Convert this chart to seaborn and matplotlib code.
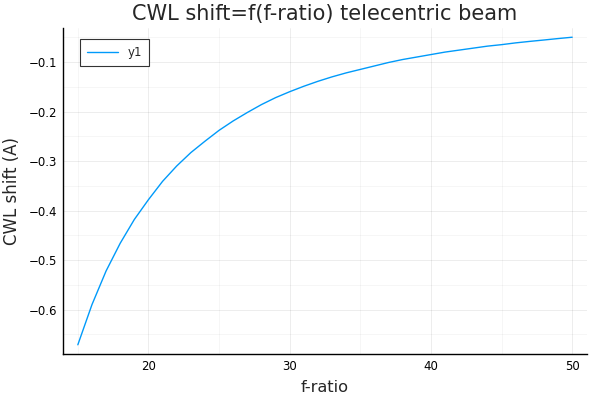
import matplotlib
matplotlib.use("Agg")
import matplotlib.pyplot as plt
import pandas as pd
import seaborn as sns
from matplotlib.ticker import MultipleLocator

# f-ratio values and the CWL shift
f_ratio = list(range(15, 51))
cwl_shift = [
    -0.671, -0.590, -0.522, -0.466, -0.418, -0.378, -0.341, -0.310,
    -0.283, -0.260, -0.238, -0.219, -0.202, -0.186, -0.172, -0.160,
    -0.149, -0.139, -0.130, -0.122, -0.115, -0.108, -0.101, -0.095,
    -0.090, -0.085, -0.080, -0.076, -0.072, -0.068, -0.065, -0.0614,
    -0.0584, -0.0556, -0.0527, -0.050,
]
series_name = "y1"

sns.set_theme(style="white")
plt.rcParams["font.family"] = ["DejaVu Sans"]

df = pd.DataFrame({"f-ratio": f_ratio, "shift": cwl_shift, "series": series_name})

fig, ax = plt.subplots(figsize=(5.97, 3.98), dpi=100)
fig.subplots_adjust(left=63 / 597, right=587 / 597, top=1 - 28 / 398, bottom=1 - 354 / 398)

sns.lineplot(data=df, x="f-ratio", y="shift", hue="series",
             palette=["#009AFA"], linewidth=1.0, ax=ax)

# Plots.jl-like 3% padding
xr = max(f_ratio) - min(f_ratio)
yr = max(cwl_shift) - min(cwl_shift)
ax.set_xlim(min(f_ratio) - 0.03 * xr, max(f_ratio) + 0.03 * xr)
ax.set_ylim(min(cwl_shift) - 0.03 * yr, max(cwl_shift) + 0.03 * yr)

ax.xaxis.set_major_locator(MultipleLocator(10))
ax.xaxis.set_minor_locator(MultipleLocator(5))
ax.yaxis.set_major_locator(MultipleLocator(0.1))
ax.yaxis.set_minor_locator(MultipleLocator(0.05))
ax.yaxis.set_major_formatter(matplotlib.ticker.FuncFormatter(lambda v, p: f"{v:.1f}".replace("-", "\u2212")))

ax.grid(which="major", color="black", alpha=0.1, linewidth=0.5)
ax.grid(which="minor", color="black", alpha=0.05, linewidth=0.5)

for side in ["top", "right"]:
    ax.spines[side].set_visible(False)
for side in ["left", "bottom"]:
    ax.spines[side].set_color("black")
    ax.spines[side].set_linewidth(1.0)

ax.tick_params(which="both", direction="in", length=4, width=0.8, color="black",
               labelsize=8.5, labelcolor="black", pad=4)
ax.tick_params(which="minor", length=3)

ax.set_title("CWL shift=f(f-ratio) telecentric beam", fontsize=15, pad=6)
ax.set_xlabel("f-ratio", fontsize=11.7, labelpad=5)
ax.set_ylabel("CWL shift (A)", fontsize=12, labelpad=6)

leg = ax.legend(loc="upper left", bbox_to_anchor=(17 / 524, 315 / 326), frameon=True,
                fancybox=False, fontsize=8.5, handlelength=2.6, borderpad=0.6,
                borderaxespad=0)
leg.get_frame().set_edgecolor("black")
leg.get_frame().set_linewidth(0.8)

fig.savefig("out.png", dpi=100)
